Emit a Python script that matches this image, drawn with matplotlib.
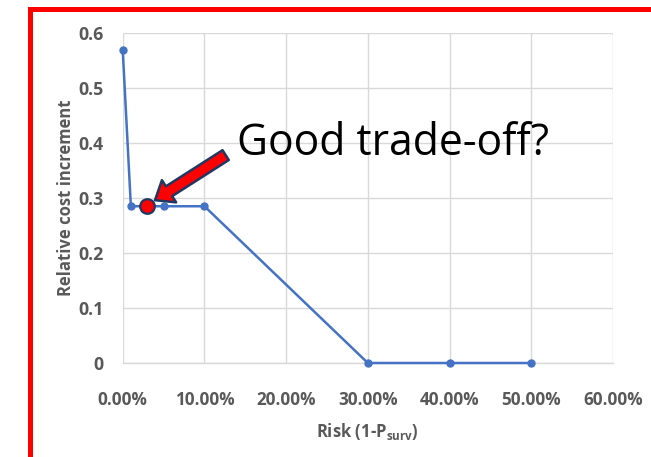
import matplotlib
matplotlib.use("Agg")
import matplotlib.pyplot as plt
from matplotlib.patches import Rectangle

# Data: risk level vs. relative cost increment
risk = [0.0, 0.01, 0.03, 0.05, 0.10, 0.30, 0.40, 0.50]
cost = [0.57, 0.285, 0.285, 0.285, 0.285, 0.0, 0.0, 0.0]
highlight_risk = 0.03
highlight_cost = 0.285

x_ticks = [0.0, 0.1, 0.2, 0.3, 0.4, 0.5, 0.6]
x_tick_labels = ["0.00%", "10.00%", "20.00%", "30.00%", "40.00%", "50.00%", "60.00%"]
y_ticks = [0.0, 0.1, 0.2, 0.3, 0.4, 0.5, 0.6]
y_tick_labels = ["0", "0.1", "0.2", "0.3", "0.4", "0.5", "0.6"]

plt.rcParams["font.family"] = ["Open Sans", "DejaVu Sans"]
plt.rcParams["mathtext.fontset"] = "custom"
plt.rcParams["mathtext.rm"] = "Open Sans:bold"
plt.rcParams["mathtext.it"] = "Open Sans:bold"
plt.rcParams["mathtext.bf"] = "Open Sans:bold"

W, H = 651, 457
fig = plt.figure(figsize=(W / 100, H / 100), dpi=100)
ax = fig.add_axes([122.7 / W, 1 - 363 / H, (613 - 122.7) / W, (363 - 33) / H])

grey_text = "#595959"
grid_col = "#d9d9d9"
blue = "#4472c4"

ax.plot(risk, cost, color=blue, lw=1.8, marker="o", ms=5, zorder=3, clip_on=False)
ax.plot([highlight_risk], [highlight_cost], "o", ms=10.5, mfc="#ff0000",
        mec="#203864", mew=1.6, zorder=5, clip_on=False)

ax.set_xlim(0, 0.6)
ax.set_ylim(0, 0.6)
ax.set_xticks(x_ticks)
ax.set_xticklabels(x_tick_labels)
ax.set_yticks(y_ticks)
ax.set_yticklabels(y_tick_labels)
ax.grid(True, color=grid_col, lw=1)
ax.set_axisbelow(True)
for side in ["top", "right", "left"]:
    ax.spines[side].set_visible(False)
ax.spines["bottom"].set_color(grid_col)
ax.spines["bottom"].set_linewidth(1)
ax.tick_params(axis="both", length=0, colors=grey_text)
ax.tick_params(axis="x", pad=20, labelsize=12.3)
ax.tick_params(axis="y", pad=14, labelsize=12.8)
for lab in ax.get_xticklabels() + ax.get_yticklabels():
    lab.set_fontweight("bold")

ax.set_xlabel("Risk (1-P$_{\\mathrm{surv}}$)", color=grey_text, fontsize=12,
              fontweight="bold", labelpad=9)
ax.set_ylabel("Relative cost increment", color=grey_text, fontsize=12,
              fontweight="bold", labelpad=2)

# Callout arrow and text
ax.annotate("", xy=(0.0395, 0.296), xytext=(0.126, 0.378),
            arrowprops=dict(arrowstyle="simple,head_length=0.6,head_width=0.95,tail_width=0.42",
                            mutation_scale=20, fc="#ff0000", ec="#203864", lw=1.8,
                            shrinkA=0, shrinkB=0),
            zorder=6)
ax.text(0.14, 0.378, "Good trade-off?", fontsize=30.7, color="black",
        va="baseline", ha="left", zorder=6)

# Red frame around the chart
fig.patches.append(Rectangle((29.5 / W, -0.2), 1.5, 1.2 - 8.5 / H,
                             transform=fig.transFigure, fill=False,
                             ec="#ff0000", lw=3.6, clip_on=False))

fig.savefig("out.png", dpi=100)
